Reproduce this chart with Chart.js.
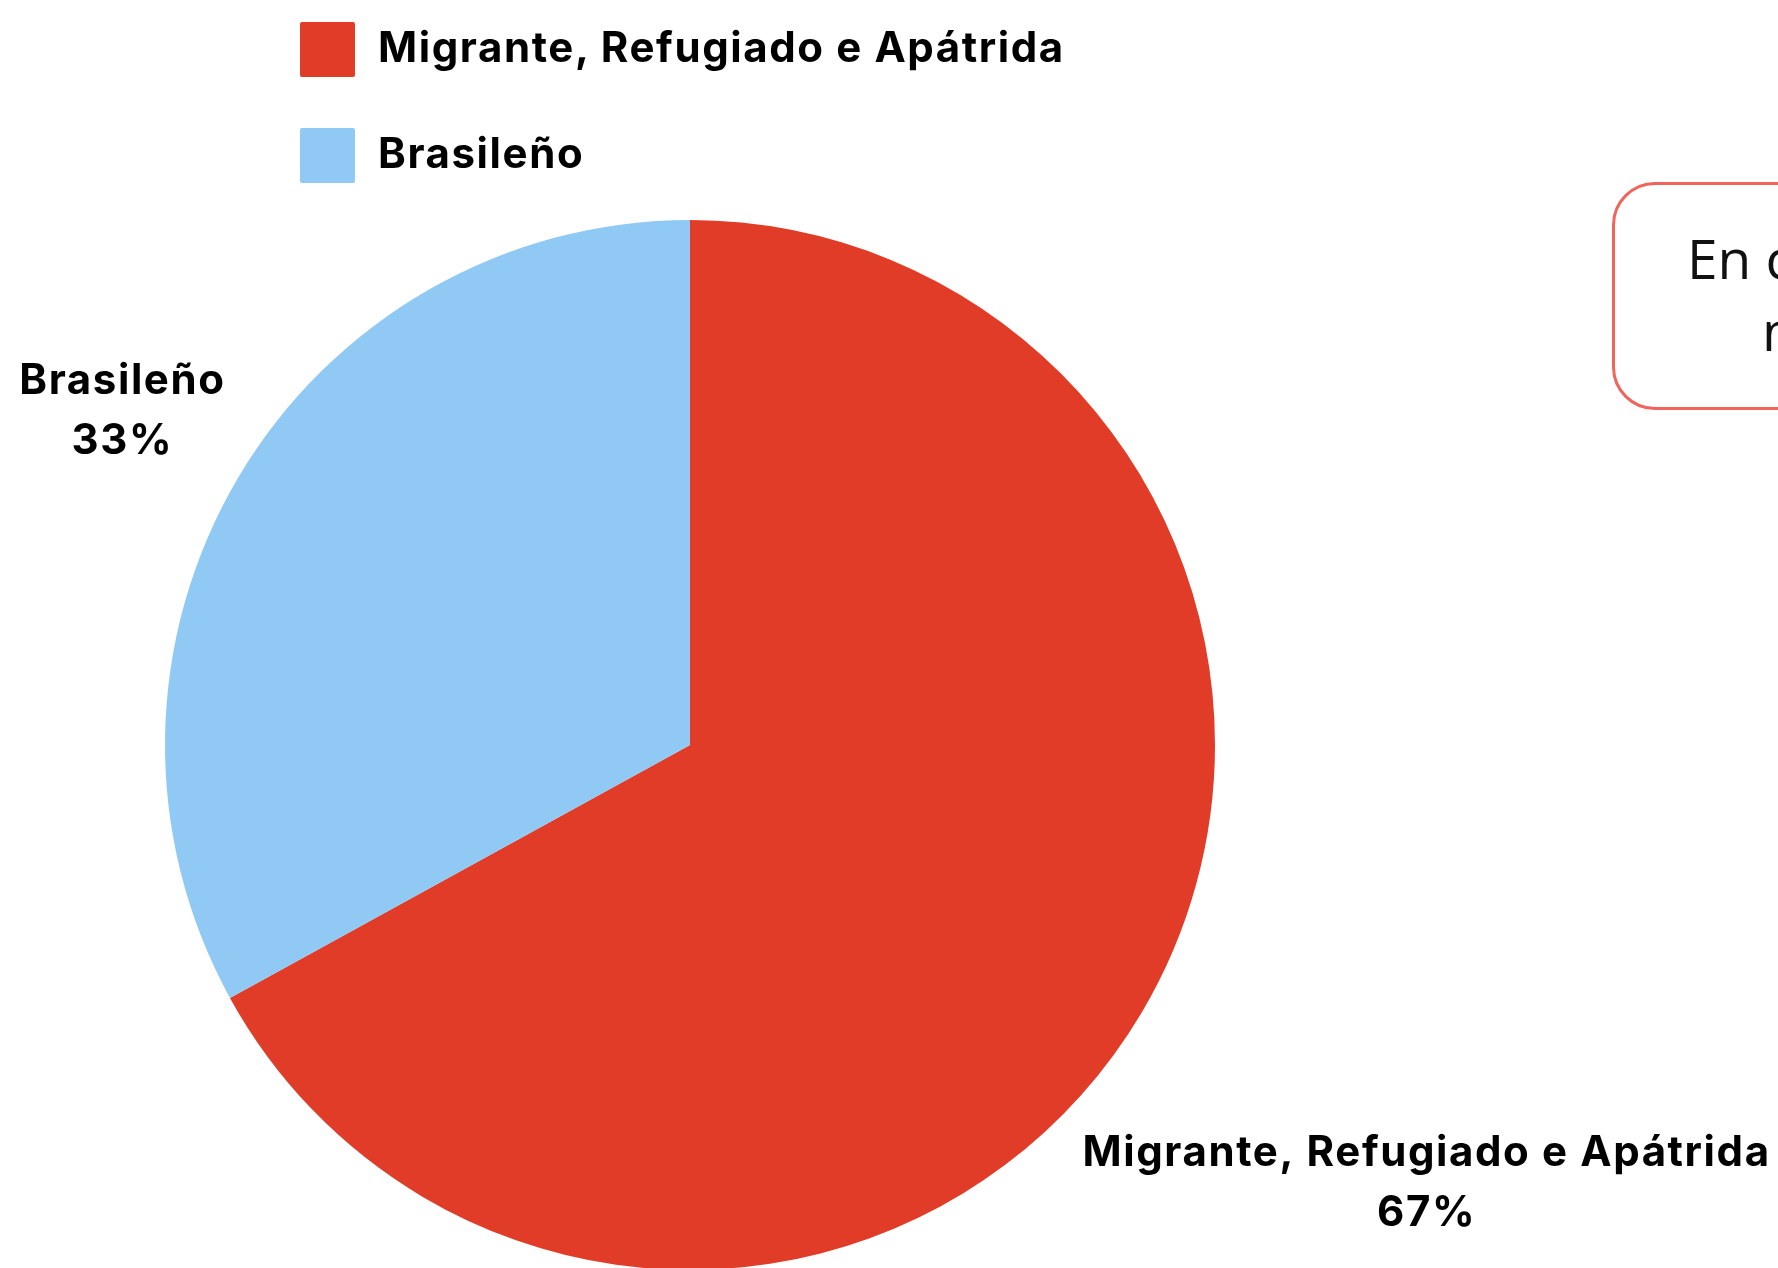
<!DOCTYPE html>
<html lang="es">
<head>
<meta charset="utf-8">
<title>Nacionalidad</title>
<script src="https://cdn.jsdelivr.net/npm/chart.js@4.4.1/dist/chart.umd.min.js"></script>
<style>
  html, body { margin: 0; padding: 0; background: #fff; overflow: hidden; }
  #wrap { position: relative; width: 1778px; height: 1268px; overflow: hidden; }
  #pie { position: absolute; left: 0; top: 0; }
  #legend { position: absolute; left: 300px; top: 22px; font-family: Inter, sans-serif; font-weight: 700; font-size: 42px; letter-spacing: 1.6px; color: #000; }
  #legend .item { display: flex; align-items: center; height: 55px; margin-bottom: 51px; }
  #legend .box { width: 55px; height: 55px; border-radius: 2px; margin-right: 23px; }
  #legend .txt { position: relative; top: -3px; line-height: 1; white-space: nowrap; }
  #note { position: absolute; left: 1612px; top: 182px; width: 700px; height: 222px; border: 3.5px solid #F0645C; border-radius: 43px; font-family: "Open Sans", sans-serif; font-size: 55px; line-height: 72px; color: #111; }
  #note div { position: absolute; white-space: nowrap; }
</style>
</head>
<body>
<div id="wrap">
  <canvas id="pie" width="1778" height="1280"></canvas>
  <div id="legend"></div>
  <div id="note">
    <div style="left:72px; top:37px;">En cuanto a la nacionalidad de los</div>
    <div style="left:147px; top:109px;">nuestros usuarios</div>
  </div>
</div>
<script>
const categories = ['Migrante, Refugiado e Apátrida', 'Brasileño'];
const values = [67, 33];
const colors = ['#E03C28', '#91C9F5'];

// draws "name / xx%" outside each slice
const outsideLabels = {
  id: 'outsideLabels',
  afterDatasetsDraw(chart, args, opts) {
    const ctx = chart.ctx;
    const data = chart.data.datasets[0].data;
    const total = data.reduce((a, b) => a + b, 0);
    const meta = chart.getDatasetMeta(0);
    ctx.save();
    ctx.font = opts.font;
    ctx.letterSpacing = opts.letterSpacing;
    ctx.fillStyle = opts.color;
    ctx.textAlign = 'center';
    ctx.textBaseline = 'alphabetic';
    meta.data.forEach((arc, i) => {
      const p = arc.getProps(['x', 'y', 'startAngle', 'endAngle', 'outerRadius'], true);
      const mid = (p.startAngle + p.endAngle) / 2;
      const k = opts.radius[i];
      const cx = p.x + Math.cos(mid) * p.outerRadius * k;
      const cy = p.y + Math.sin(mid) * p.outerRadius * k;
      const pct = Math.round(data[i] / total * 100) + '%';
      ctx.fillText(chart.data.labels[i], cx, cy - opts.lineGap / 2 + opts.capHeight / 2);
      ctx.fillText(pct, cx, cy + opts.lineGap / 2 + opts.capHeight / 2);
    });
    ctx.restore();
  }
};

const chart = new Chart(document.getElementById('pie'), {
  type: 'pie',
  data: {
    labels: categories,
    datasets: [{
      data: values,
      backgroundColor: colors,
      borderWidth: 0,
      hoverOffset: 0
    }]
  },
  options: {
    responsive: false,
    animation: false,
    layout: { padding: { top: 220, left: 165, right: 563, bottom: 10 } },
    plugins: {
      legend: { display: false },
      tooltip: { enabled: false },
      outsideLabels: {
        font: '700 42px Inter, sans-serif',
        letterSpacing: '1.6px',
        color: '#000',
        radius: [1.63, 1.256],
        lineGap: 60,
        capHeight: 30
      }
    }
  },
  plugins: [outsideLabels]
});

// html legend built from chart's own legend items
const legendEl = document.getElementById('legend');
const items = Chart.overrides.pie.plugins.legend.labels.generateLabels(chart);
items.forEach(it => {
  const row = document.createElement('div');
  row.className = 'item';
  const box = document.createElement('span');
  box.className = 'box';
  box.style.background = it.fillStyle;
  const txt = document.createElement('span');
  txt.className = 'txt';
  txt.textContent = it.text;
  row.appendChild(box);
  row.appendChild(txt);
  legendEl.appendChild(row);
});
</script>
</body>
</html>
